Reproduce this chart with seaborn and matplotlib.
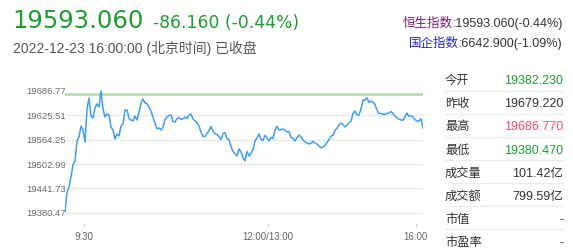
import matplotlib
matplotlib.use("Agg")
import matplotlib.pyplot as plt
from matplotlib.lines import Line2D
import matplotlib.transforms as mtransforms
import seaborn as sns
import pandas as pd

# ---------------- data ----------------
prices = [
    19382.23, 19432.6, 19445.1, 19470.3, 19500.5, 19510.5, 19560.9, 19570.9, 19598.6, 19588.5,
    19558.3, 19641.4, 19669.1, 19623.8, 19618.7, 19643.9, 19654.0, 19646.4, 19686.77, 19641.4,
    19621.2, 19628.8, 19626.3, 19596.1, 19588.5, 19565.9, 19578.5, 19573.4, 19598.6, 19603.6,
    19638.8, 19638.8, 19617.5, 19613.7, 19611.2, 19623.8, 19613.7, 19633.8, 19656.5, 19666.5,
    19656.5, 19654.7, 19646.4, 19636.3, 19620.0, 19606.1, 19591.8, 19593.6, 19588.5, 19596.1,
    19615.0, 19621.2, 19625.0, 19626.3, 19609.9, 19608.6, 19617.0, 19620.0, 19615.0, 19617.0,
    19621.2, 19617.5, 19626.3, 19628.8, 19616.2, 19611.2, 19607.9, 19598.6, 19583.5, 19572.2,
    19572.7, 19579.7, 19587.3, 19597.3, 19586.0, 19579.2, 19577.2, 19572.2, 19564.1, 19579.7,
    19582.3, 19565.9, 19564.6, 19547.0, 19534.4, 19528.9, 19523.1, 19540.7, 19533.2, 19518.8,
    19510.5, 19534.4, 19523.1, 19530.7, 19538.2, 19560.9, 19568.4, 19578.5, 19564.6, 19562.1,
    19575.2, 19569.7, 19560.9, 19569.7, 19567.2, 19587.8, 19597.8, 19588.5, 19588.5, 19591.1,
    19587.8, 19583.5, 19584.8, 19569.7, 19568.4, 19560.9, 19568.4, 19576.0, 19570.9, 19563.4,
    19558.3, 19555.8, 19553.3, 19555.1, 19560.1, 19555.8, 19553.3, 19548.3, 19544.0, 19545.3,
    19550.0, 19557.1, 19564.6, 19572.9, 19575.2, 19587.8, 19592.8, 19601.1, 19606.1, 19602.4,
    19596.1, 19601.1, 19606.1, 19611.2, 19630.0, 19636.3, 19626.3, 19626.3, 19641.4, 19664.0,
    19663.3, 19669.8, 19657.8, 19661.5, 19658.2, 19652.7, 19638.8, 19630.0, 19630.0, 19628.3,
    19628.0, 19629.6, 19631.3, 19635.1, 19630.0, 19623.8, 19618.7, 19615.7, 19613.7, 19612.9,
    19621.2, 19631.3, 19622.5, 19623.8, 19621.2, 19614.4, 19610.7, 19611.2, 19617.0, 19593.06,
]
prev_close = 19679.22
y_ticks = [19380.47, 19441.73, 19502.99, 19564.25, 19625.51, 19686.77]
x_tick_labels = ["9:30", "12:00/13:00", "16:00"]
x_tick_pos = [9.65, 101.65, 175.35]

title_price = "19593.060"
title_change = "-86.160 (-0.44%)"
subtitle = "2022-12-23 16:00:00 (北京时间) 已收盘"
idx_names = ["恒生指数", "国企指数"]
idx_values = [":19593.060(-0.44%)", ":6642.900(-1.09%)"]

table_labels = ["今开", "昨收", "最高", "最低", "成交量", "成交额", "市值", "市盈率"]
table_values = ["19382.230", "19679.220", "19686.770", "19380.470", "101.42亿", "799.59亿", "-", "-"]

# ---------------- style ----------------
W, H = 573, 251
sns.set_style("white")
plt.rcParams["font.family"] = ["Liberation Sans", "Noto Sans CJK SC", "DejaVu Sans"]

GREEN = "#1b9e2e"
RED = "#f0506a"
DARK = "#333333"
GRAY = "#666666"
fam = ["Liberation Sans", "Noto Sans CJK SC", "DejaVu Sans"]

fig = plt.figure(figsize=(W / 100, H / 100), dpi=100)
fig.patch.set_facecolor("white")


def fx(px):
    return px / W


def fy(py):
    return 1 - py / H


# axes: px left 65, right 423, top 88, bottom 224
ax = fig.add_axes([fx(65), fy(224), fx(423) - fx(65), fy(88) - fy(224)])
ax.set_facecolor("white")

df = pd.DataFrame({"i": range(len(prices)), "price": prices})
# horizontal grid lines (top one is hidden by the previous-close line)
for v in y_ticks[:-1]:
    ax.axhline(v, color="#e6e6e6", lw=0.8, zorder=0.5)
ax.axhline(prev_close, color="#b3dfb0", lw=2.0, zorder=1)
sns.lineplot(data=df, x="i", y="price", ax=ax, color="#3d9ef5", lw=1.1, zorder=3)

ax.set_xlim(0, len(prices) - 1)
ax.set_ylim(19354.56, 19696.71)
ax.set_yticks(y_ticks)
ax.set_yticklabels([])
ax.tick_params(axis="y", length=0)
ax.grid(False)
ax.set_xticks(x_tick_pos)
ax.set_xticklabels(x_tick_labels, fontsize=7, color=GRAY)
ax.tick_params(axis="x", length=3, width=0.7, color="#cccccc", pad=2.5, bottom=True)
ax.set_xlabel("")
ax.set_ylabel("")
for s in ax.spines.values():
    s.set_visible(False)

# y tick labels drawn behind the axes so the plot area clips their ends
blend = mtransforms.blended_transform_factory(fig.transFigure, ax.transData)
for v in y_ticks:
    fig.text(fx(26), v, f"{v:.3f}", transform=blend, ha="left", va="center",
             fontsize=6.8, color=GRAY, zorder=-1, family=fam)

# ---------------- header ----------------
fig.text(fx(12), fy(28.3), title_price, fontsize=17.5, color=GREEN,
         family=["DejaVu Sans"], va="baseline", ha="left")
fig.text(fx(153), fy(28.3), title_change, fontsize=12.3, color=GREEN,
         family=["DejaVu Sans"], va="baseline", ha="left")
fig.text(fx(13), fy(53.3), subtitle, fontsize=10, color="#555555",
         family=fam, va="baseline", ha="left")

renderer = fig.canvas.get_renderer()
name_colors = ["#7d1a7d", "#2424c8"]
for name, val, col, base in zip(idx_names, idx_values, name_colors, [27.3, 46.7]):
    t = fig.text(fx(563), fy(base), val, fontsize=9, color=DARK, family=fam,
                 ha="right", va="baseline")
    bb = t.get_window_extent(renderer)
    fig.text(bb.x0 / W, fy(base), name, fontsize=9, color=col, family=fam,
             ha="right", va="baseline")

# ---------------- right table ----------------
val_colors = [GREEN, DARK, RED, GREEN, DARK, DARK, DARK, DARK]
for i, (lab, val, col) in enumerate(zip(table_labels, table_values, val_colors)):
    base = 84 + 23.2 * i
    fig.text(fx(445), fy(base), lab, fontsize=8.8, color=DARK, family=fam,
             ha="left", va="baseline")
    fig.text(fx(563), fy(base), val, fontsize=9, color=col, family=fam,
             ha="right", va="baseline")
    if i < len(table_labels) - 1:
        ly = 91.7 + 23.0 * i
        fig.add_artist(Line2D([fx(445), fx(563)], [fy(ly), fy(ly)],
                              transform=fig.transFigure, color="#ebebeb", lw=0.8))

fig.savefig("out.png", dpi=100, facecolor="white")
